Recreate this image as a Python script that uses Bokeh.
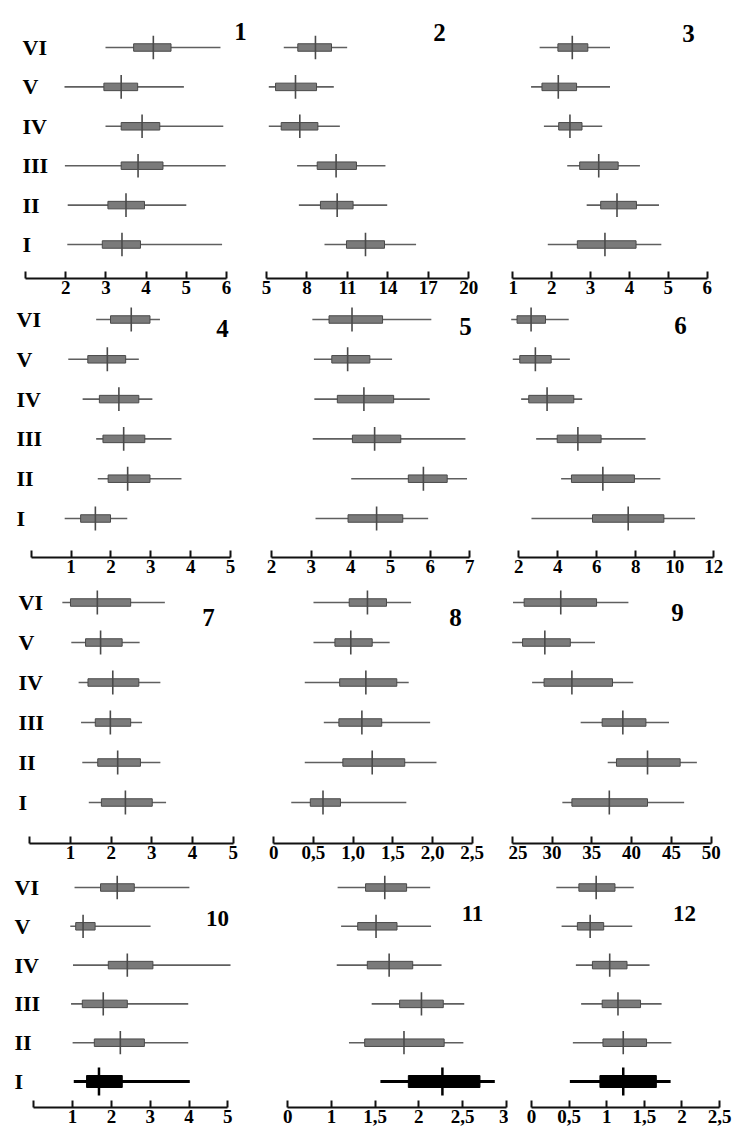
from bokeh.plotting import figure
from bokeh.layouts import gridplot
from bokeh.models import FixedTicker, ColumnDataSource
from bokeh.core.properties import value
from bokeh.embed import file_html
from bokeh.resources import INLINE

ROWS = ["VI", "V", "IV", "III", "II", "I"]
ROW_Y = [6, 5, 4, 3, 2, 1]

# ---- data (order: VI, V, IV, III, II, I) ----
P1_MIN = [2.99, 1.97, 2.99, 1.98, 2.05, 2.04]
P1_Q1 = [3.69, 2.95, 3.38, 3.38, 3.05, 2.91]
P1_MED = [4.18, 3.38, 3.90, 3.80, 3.50, 3.40]
P1_Q3 = [4.62, 3.79, 4.34, 4.42, 3.96, 3.86]
P1_MAX = [5.85, 4.94, 5.92, 5.98, 5.00, 5.89]
P1_TICKS = [1, 2, 3, 4, 5, 6]
P1_LABELS = ["", "2", "3", "4", "5", "6"]

P2_MIN = [6.28, 5.17, 5.17, 7.27, 7.40, 9.30]
P2_Q1 = [7.32, 5.67, 6.09, 8.76, 9.00, 10.93]
P2_MED = [8.63, 7.15, 7.47, 10.16, 10.24, 12.34]
P2_Q3 = [9.82, 8.71, 8.81, 11.67, 11.42, 13.75]
P2_MAX = [10.98, 9.99, 10.44, 13.82, 13.95, 16.09]
P2_TICKS = [5, 8, 11, 14, 17, 20]
P2_LABELS = ["5", "8", "11", "14", "17", "20"]

P3_MIN = [1.69, 1.47, 1.80, 2.40, 2.90, 1.90]
P3_Q1 = [2.16, 1.75, 2.18, 2.72, 3.26, 2.66]
P3_MED = [2.53, 2.17, 2.47, 3.21, 3.68, 3.37]
P3_Q3 = [2.93, 2.64, 2.78, 3.71, 4.18, 4.17]
P3_MAX = [3.50, 3.50, 3.30, 4.27, 4.76, 4.82]
P3_TICKS = [1, 2, 3, 4, 5, 6]
P3_LABELS = ["1", "2", "3", "4", "5", "6"]

P4_MIN = [1.63, 0.93, 1.29, 1.63, 1.67, 0.84]
P4_Q1 = [1.99, 1.42, 1.71, 1.80, 1.93, 1.24]
P4_MED = [2.51, 1.91, 2.20, 2.32, 2.42, 1.61]
P4_Q3 = [2.98, 2.37, 2.70, 2.85, 2.98, 1.99]
P4_MAX = [3.23, 2.70, 3.04, 3.52, 3.77, 2.41]
P4_TICKS = [0, 1, 2, 3, 4, 5]
P4_LABELS = ["", "1", "2", "3", "4", "5"]

P5_MIN = [3.03, 3.07, 3.08, 3.04, 4.01, 3.11]
P5_Q1 = [3.45, 3.52, 3.66, 4.04, 5.45, 3.93]
P5_MED = [4.03, 3.92, 4.33, 4.60, 5.83, 4.65]
P5_Q3 = [4.80, 4.48, 5.08, 5.26, 6.43, 5.31]
P5_MAX = [6.03, 5.04, 5.99, 6.89, 6.93, 5.95]
P5_TICKS = [2, 3, 4, 5, 6, 7]
P5_LABELS = ["2", "3", "4", "5", "6", "7"]

P6_MIN = [1.61, 1.69, 2.12, 2.89, 4.17, 2.65]
P6_Q1 = [1.91, 2.05, 2.51, 3.97, 4.70, 5.78]
P6_MED = [2.63, 2.85, 3.45, 5.03, 6.31, 7.61]
P6_Q3 = [3.37, 3.66, 4.82, 6.22, 7.93, 9.44]
P6_MAX = [4.56, 4.62, 5.25, 8.50, 9.26, 11.04]
P6_TICKS = [2, 4, 6, 8, 10, 12]
P6_LABELS = ["2", "4", "6", "8", "10", "12"]

P7_MIN = [0.80, 1.02, 1.20, 1.26, 1.29, 1.45]
P7_Q1 = [1.00, 1.37, 1.43, 1.61, 1.67, 1.76]
P7_MED = [1.66, 1.74, 2.04, 1.98, 2.16, 2.35]
P7_Q3 = [2.48, 2.27, 2.68, 2.48, 2.72, 3.01]
P7_MAX = [3.32, 2.70, 3.21, 2.76, 3.21, 3.35]
P7_TICKS = [0, 1, 2, 3, 4, 5]
P7_LABELS = ["", "1", "2", "3", "4", "5"]

P8_MIN = [0.50, 0.50, 0.39, 0.63, 0.39, 0.22]
P8_Q1 = [0.95, 0.77, 0.83, 0.82, 0.87, 0.46]
P8_MED = [1.18, 0.97, 1.16, 1.11, 1.24, 0.62]
P8_Q3 = [1.42, 1.24, 1.55, 1.36, 1.65, 0.84]
P8_MAX = [1.73, 1.46, 1.70, 1.97, 2.05, 1.67]
P8_TICKS = [0, 0.5, 1.0, 1.5, 2.0, 2.5]
P8_LABELS = ["0", "0,5", "1,0", "1,5", "2,0", "2,5"]

P9_MIN = [25.1, 25.0, 27.5, 33.6, 37.0, 31.3]
P9_Q1 = [26.5, 26.3, 29.0, 36.3, 38.1, 32.5]
P9_MED = [31.1, 29.1, 32.5, 38.9, 42.0, 37.2]
P9_Q3 = [35.6, 32.3, 37.6, 41.8, 46.1, 42.0]
P9_MAX = [39.6, 35.4, 40.2, 44.7, 48.2, 46.6]
P9_TICKS = [25, 30, 35, 40, 45, 50]
P9_LABELS = ["25", "30", "35", "40", "45", "50"]

P10_MIN = [1.05, 0.94, 1.01, 0.96, 1.00, 1.03]
P10_Q1 = [1.72, 1.08, 1.92, 1.25, 1.56, 1.36]
P10_MED = [2.15, 1.27, 2.41, 1.79, 2.23, 1.68]
P10_Q3 = [2.59, 1.58, 3.07, 2.41, 2.85, 2.28]
P10_MAX = [4.01, 3.01, 5.07, 3.98, 3.98, 4.02]
P10_TICKS = [0, 1, 2, 3, 4, 5]
P10_LABELS = ["", "1", "2", "3", "4", "5"]

P11_MIN = [1.07, 1.11, 1.06, 1.46, 1.20, 1.56]
P11_Q1 = [1.39, 1.30, 1.41, 1.78, 1.38, 1.88]
P11_MED = [1.61, 1.51, 1.66, 2.03, 1.83, 2.27]
P11_Q3 = [1.86, 1.75, 1.93, 2.28, 2.29, 2.70]
P11_MAX = [2.13, 2.14, 2.26, 2.52, 2.51, 2.87]
P11_TICKS = [0.5, 1.0, 1.5, 2.0, 2.5, 3.0]
P11_LABELS = ["0", "1", "1,5", "2", "2,5", "3"]

P12_MIN = [0.33, 0.40, 0.59, 0.66, 0.55, 0.51]
P12_Q1 = [0.63, 0.61, 0.81, 0.94, 0.95, 0.91]
P12_MED = [0.86, 0.78, 1.04, 1.15, 1.22, 1.22]
P12_Q3 = [1.11, 0.96, 1.27, 1.45, 1.53, 1.66]
P12_MAX = [1.36, 1.34, 1.57, 1.73, 1.86, 1.85]
P12_TICKS = [0, 0.5, 1.0, 1.5, 2.0, 2.5]
P12_LABELS = ["0", "0,5", "1", "1,5", "2", "2,5"]

PANELS = [
    (P1_MIN, P1_Q1, P1_MED, P1_Q3, P1_MAX, P1_TICKS, P1_LABELS),
    (P2_MIN, P2_Q1, P2_MED, P2_Q3, P2_MAX, P2_TICKS, P2_LABELS),
    (P3_MIN, P3_Q1, P3_MED, P3_Q3, P3_MAX, P3_TICKS, P3_LABELS),
    (P4_MIN, P4_Q1, P4_MED, P4_Q3, P4_MAX, P4_TICKS, P4_LABELS),
    (P5_MIN, P5_Q1, P5_MED, P5_Q3, P5_MAX, P5_TICKS, P5_LABELS),
    (P6_MIN, P6_Q1, P6_MED, P6_Q3, P6_MAX, P6_TICKS, P6_LABELS),
    (P7_MIN, P7_Q1, P7_MED, P7_Q3, P7_MAX, P7_TICKS, P7_LABELS),
    (P8_MIN, P8_Q1, P8_MED, P8_Q3, P8_MAX, P8_TICKS, P8_LABELS),
    (P9_MIN, P9_Q1, P9_MED, P9_Q3, P9_MAX, P9_TICKS, P9_LABELS),
    (P10_MIN, P10_Q1, P10_MED, P10_Q3, P10_MAX, P10_TICKS, P10_LABELS),
    (P11_MIN, P11_Q1, P11_MED, P11_Q3, P11_MAX, P11_TICKS, P11_LABELS),
    (P12_MIN, P12_Q1, P12_MED, P12_Q3, P12_MAX, P12_TICKS, P12_LABELS),
]

# ---- layout (page pixels) ----
COL_X0 = [0, 249, 508]
COL_W = [249, 259, 239]
BOTTOM = 28
# block: (top, axis_y, row VI y, row I y)
BLOCKS = [(0, 278, 47, 244), (306, 557, 319, 518), (585, 843, 602, 802), (871, 1107, 887, 1081)]
ANCHORS = [
    ((1, 25), (6, 226)), ((5, 266), (20, 468.3)), ((1, 512.3), (6, 706.7)),
    ((0, 30.7), (5, 230)), ((2, 271), (7, 469.3)), ((2, 518.3), (12, 713.3)),
    ((0, 29.3), (5, 232.7)), ((0, 273.3), (2.5, 471.7)), ((25, 511.7), (50, 710.7)),
    ((0, 33.3), (5, 227.3)), ((1, 331), (2.5, 462)), ((0, 531), (2.5, 719)),
]
NUM_POS = [(240, 31), (439, 32), (688, 33), (222, 328), (465, 326), (680, 325),
           (208, 617), (455, 617), (677, 612), (217, 918), (472, 913), (684, 913)]
ROWLABEL_X = [22, 16, 18, 14]

SERIF = "Liberation Serif"
GRAY_LINE = "#5f5f5f"
BOX_FILL = "#7a7a7a"
BOX_LINE = "#4a4a4a"

figs = []
for b, (top, axis_y, pvi, pi) in enumerate(BLOCKS):
    H = (axis_y - top) + BOTTOM
    s = (pi - pvi) / 5.0
    y_end = 6 + (pvi - top) / s
    y_start = 1 - (axis_y - pi) / s
    row_figs = []
    for c in range(3):
        k = b * 3 + c
        mn, q1, md, q3, mx, ticks, labels = PANELS[k]
        (a, pa), (bb, pb) = ANCHORS[k]
        X0, W = COL_X0[c], COL_W[c]
        kx = (pb - pa) / (bb - a)
        x_start = a - (pa - X0) / kx
        x_end = bb + (X0 + W - pb) / kx

        p = figure(width=W, height=H, x_range=(x_start, x_end), y_range=(y_start, y_end),
                   output_backend="svg", toolbar_location=None, y_axis_location=None,
                   title=None, min_border_left=0, min_border_right=0, min_border_top=0,
                   min_border_bottom=BOTTOM)
        p.outline_line_color = None
        p.grid.visible = False
        p.background_fill_color = "white"
        p.border_fill_color = "white"

        ax = p.xaxis[0]
        ax.ticker = FixedTicker(ticks=ticks)
        ax.major_label_overrides = {t: l for t, l in zip(ticks, labels)}
        ax.bounds = (ticks[0], ticks[-1])
        ax.axis_line_width = 2
        ax.axis_line_color = "#111111"
        ax.major_tick_in = 7
        ax.major_tick_out = 0
        ax.major_tick_line_width = 2
        ax.major_tick_line_color = "#111111"
        ax.minor_tick_line_color = None
        ax.major_label_text_font = SERIF
        ax.major_label_text_font_style = "bold"
        ax.major_label_text_font_size = "19px"
        ax.major_label_text_color = "black"
        ax.major_label_standoff = 2

        src = ColumnDataSource(dict(y=ROW_Y, mn=mn, q1=q1, md=md, q3=q3, mx=mx,
                                    ylo=[y - 0.3 for y in ROW_Y], yhi=[y + 0.3 for y in ROW_Y]))
        black_last = (b == 3)
        idx_gray = [0, 1, 2, 3, 4] if black_last else list(range(6))
        gsrc = ColumnDataSource({key: [v[i] for i in idx_gray] for key, v in src.data.items()})
        p.segment(x0="mn", x1="mx", y0="y", y1="y", source=gsrc, line_color=GRAY_LINE, line_width=1.6)
        p.hbar(y="y", left="q1", right="q3", height=7.5 / s, source=gsrc,
               fill_color=BOX_FILL, line_color=BOX_LINE, line_width=1)
        p.segment(x0="md", x1="md", y0="ylo", y1="yhi", source=gsrc, line_color="#4a4a4a", line_width=1.6)
        if black_last:
            bsrc = ColumnDataSource({key: [v[5]] for key, v in src.data.items()})
            bsrc.data["ylo"] = [1 - 0.36]
            bsrc.data["yhi"] = [1 + 0.36]
            p.segment(x0="mn", x1="mx", y0="y", y1="y", source=bsrc, line_color="black", line_width=3)
            p.hbar(y="y", left="q1", right="q3", height=12.0 / s, source=bsrc,
                   fill_color="black", line_color="black")
            p.segment(x0="md", x1="md", y0="ylo", y1="yhi", source=bsrc, line_color="black", line_width=2.5)

        nx, ny = NUM_POS[k]
        p.text(x=[a + (nx - pa) / kx], y=[6 + (pvi - ny) / s], text=[str(k + 1)],
               text_font=value(SERIF), text_font_style="bold",
               text_font_size="25px" if b < 3 else "23px",
               text_align="center", text_baseline="middle", text_color="black")

        if c == 0:
            lx = a + (ROWLABEL_X[b] - pa) / kx
            p.text(x=[lx] * 6, y=ROW_Y, text=ROWS, text_font=value(SERIF), text_font_style="bold",
                   text_font_size="22px", text_align="left", text_baseline="middle", text_color="black")
        row_figs.append(p)
    figs.append(row_figs)

grid = gridplot(figs, toolbar_location=None)
open("out.html", "w").write(file_html(grid, INLINE))
